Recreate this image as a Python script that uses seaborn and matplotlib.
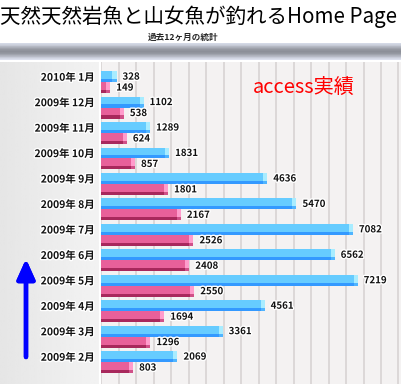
import numpy as np
import pandas as pd
import matplotlib
matplotlib.use("Agg")
import matplotlib.pyplot as plt
import matplotlib.patheffects as pe
from matplotlib.ticker import MultipleLocator
import seaborn as sns

# データ（過去12ヶ月）
months = ["2010年 1月", "2009年 12月", "2009年 11月", "2009年 10月",
          "2009年 9月", "2009年 8月", "2009年 7月", "2009年 6月",
          "2009年 5月", "2009年 4月", "2009年 3月", "2009年 2月"]
access = [328, 1102, 1289, 1831, 4636, 5470, 7082, 6562, 7219, 4561, 3361, 2069]
visitor = [149, 538, 624, 857, 1801, 2167, 2526, 2408, 2550, 1694, 1296, 803]

df = pd.DataFrame({
    "月": months * 2,
    "件数": access + visitor,
    "系列": ["access"] * len(access) + ["visitor"] * len(visitor),
})

sns.set_theme(style="white")
plt.rcParams["font.family"] = ["Noto Sans CJK JP", "DejaVu Sans"]

W, H = 402, 384
fig = plt.figure(figsize=(W / 100, H / 100), dpi=100, facecolor="white")


def box(x0, y0, x1, y1):
    # pixel box (top-left origin) -> figure fraction
    return [x0 / W, 1 - y1 / H, (x1 - x0) / W, (y1 - y0) / H]


# タイトル
fig.text(0.5 / W, 1 - 17 / H, "天然天然岩魚と山女魚が釣れるHome Page",
         fontsize=14.75, va="center", ha="left", color="black")
fig.text(183 / W, 1 - 37 / H, "過去12ヶ月の統計", fontsize=6.2,
         fontweight="bold", va="center", ha="center")

# 上の帯（青みがかったグレーのグラデーション）
band = fig.add_axes(box(0, 43, W, 60))
shade = np.array([0.86, 0.80, 0.72, 0.64, 0.59, 0.57, 0.59, 0.65, 0.73, 0.81, 0.89])
rgb = np.stack([shade * 0.97, shade * 0.99, shade * 1.05], axis=-1).clip(0, 1)
band.imshow(rgb[:, None, :], aspect="auto")
band.axis("off")

# 左パネル
left = fig.add_axes(box(0, 62, 99, H))
grad = np.linspace(0.90, 0.95, 50)[None, :]
left.imshow(grad, cmap="gray", vmin=0, vmax=1, aspect="auto")
left.axis("off")

# 上向き矢印
fig.add_artist(plt.annotate(
    "", xy=(26, H - 259), xytext=(26, H - 357), xycoords="figure pixels",
    arrowprops=dict(arrowstyle="-|>,head_width=0.45,head_length=1.0",
                    lw=3.2, color="#0000ff", shrinkA=0, shrinkB=0)))

# メインのグラフ
ax = fig.add_axes(box(101, 62, W, H))
sns.barplot(data=df, y="月", x="件数", hue="系列", order=months, orient="h",
            palette={"access": "#66ccff", "visitor": "#e8609a"},
            saturation=1, width=0.86, linewidth=0, legend=False, ax=ax, zorder=3)

styles = {
    0: dict(dark="#3399ff", cap="#a8ecff", capdark="#4fb4ff"),
    1: dict(dark="#a8285c", cap="#ff9ccc", capdark="#d05088"),
}
cap = 115
for k, (cont, vals) in enumerate(zip(ax.containers, [access, visitor])):
    st = styles[k]
    for bar, v in zip(cont, vals):
        y, h, w = bar.get_y(), bar.get_height(), bar.get_width()
        ax.barh(y + h * 0.72, w, height=h * 0.28, align="edge",
                color=st["dark"], linewidth=0, zorder=4)
        ax.barh(y, cap, left=w, height=h * 0.72, align="edge",
                color=st["cap"], linewidth=0, zorder=4)
        ax.barh(y + h * 0.72, cap, left=w, height=h * 0.28, align="edge",
                color=st["capdark"], linewidth=0, zorder=4)
        ax.annotate(f"{v}", xy=(w + cap, y + h / 2), xytext=(6, 0),
                    textcoords="offset pixels", va="center", ha="left",
                    fontsize=7, fontweight="bold", color="#111111", zorder=5,
                    path_effects=[pe.withStroke(linewidth=2, foreground="white")])

ax.set_xlim(0, 8600)
ax.set_ylim(11.86, -0.79)
ax.set_facecolor("#f4f2f2")
ax.xaxis.set_major_locator(MultipleLocator(500))
ax.grid(axis="x", color="#d8d3d3", linewidth=1.2, zorder=0)
ax.grid(axis="y", visible=False)
ax.set_axisbelow(True)
for s in ax.spines.values():
    s.set_visible(False)
ax.set_xticklabels([])
ax.set_xlabel("")
ax.set_ylabel("")
ax.set_yticks(np.arange(len(months)) - 0.215, months)
ax.tick_params(axis="y", length=0, pad=4.5, labelsize=7.5)
ax.tick_params(axis="x", length=0)
for lab in ax.get_yticklabels():
    lab.set_fontweight("bold")
    lab.set_color("#111111")
    lab.set_path_effects([pe.withStroke(linewidth=2, foreground="white")])

ax.text(0.506, 0.92, "access実績", transform=ax.transAxes, fontsize=14.5,
        color="#ff0000", va="center", ha="left")

fig.savefig("out.png", dpi=100, facecolor="white")
